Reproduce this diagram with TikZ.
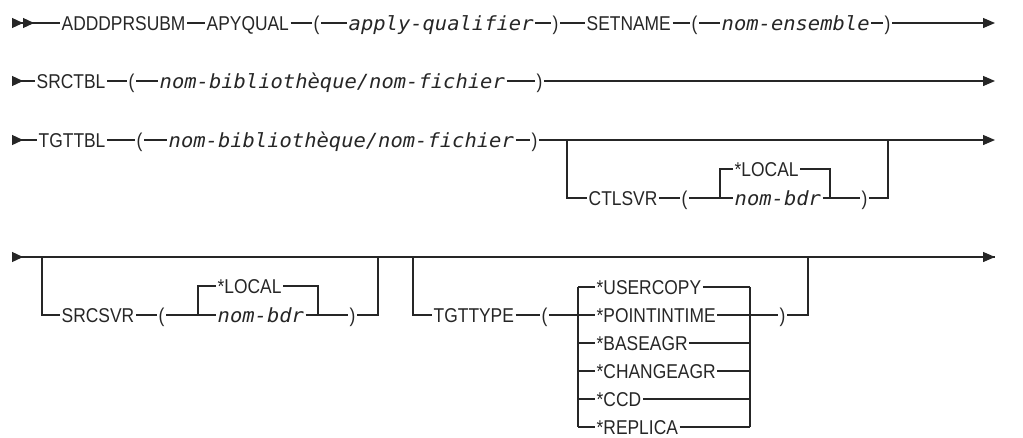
\documentclass[tikz,border=0pt]{standalone}
\usepackage{fontspec}
\setmainfont{Liberation Sans}[FakeStretch=0.87]
\newfontfamily\varfont{DejaVu Sans Mono}[FakeStretch=1.05]
\usetikzlibrary{arrows.meta}
\definecolor{ink}{HTML}{262626}
\tikzset{
  kw/.style={font=\fontsize{20}{21}\selectfont, text=ink, anchor=west, inner sep=1.5pt, text height=14.3pt, text depth=0pt},
  var/.style={kw, font=\varfont\itshape\fontsize{19.5}{20}\selectfont},
  rail/.style={draw=ink, line width=1.3pt},
  railend/.style={rail, -{Triangle[length=12pt,width=10pt]}},
  railstart/.style={rail, {Triangle[reversed,length=11pt,width=10pt]}-},
  railstarttwo/.style={rail, {Triangle[reversed,length=11pt,width=10pt] Triangle[reversed,length=11pt,width=10pt]}-}
}
\begin{document}
\begin{tikzpicture}[x=1pt, y=-1pt]
\useasboundingbox (0,0) rectangle (1023,437);
% row 1
\coordinate (s1) at (12,23);
\coordinate (e1) at (995,23);
\node[kw] (cmd) at (60,23) {ADDDPRSUBM};
\node[kw] (apyqual) at (205,23) {APYQUAL};
\node[kw] (lp1) at (312,23) {(};
\node[var] (qual) at (347,23) {apply-qualifier};
\node[kw] (rp1) at (551,23) {)};
\node[kw] (setname) at (585,23) {SETNAME};
\node[kw] (lp2) at (690,23) {(};
\node[var] (nomens) at (720,23) {nom-ensemble};
\node[kw] (rp2) at (883,23) {)};
\draw[railstarttwo] (s1) -- (cmd.west);
\foreach \a/\b in {cmd/apyqual, apyqual/lp1, lp1/qual, qual/rp1, rp1/setname, setname/lp2, lp2/nomens, nomens/rp2}
  \draw[rail] (\a.east) -- (\b.west);
\draw[railend] (rp2.east) -- (e1);
% row 2
\coordinate (s2) at (12,81);
\coordinate (e2) at (995,81);
\node[kw] (srctbl) at (35,81) {SRCTBL};
\node[kw] (lp3) at (127,81) {(};
\node[var] (srcfile) at (158,81) {nom-bibliothèque/nom-fichier};
\node[kw] (rp3) at (535,81) {)};
\draw[railstart] (s2) -- (srctbl.west);
\foreach \a/\b in {srctbl/lp3, lp3/srcfile, srcfile/rp3}
  \draw[rail] (\a.east) -- (\b.west);
\draw[railend] (rp3.east) -- (e2);
% row 3
\coordinate (s3) at (12,140);
\coordinate (e3) at (995,140);
\node[kw] (tgttbl) at (37,140) {TGTTBL};
\node[kw] (lp4) at (135,140) {(};
\node[var] (tgtfile) at (167,140) {nom-bibliothèque/nom-fichier};
\node[kw] (rp4) at (530,140) {)};
\draw[railstart] (s3) -- (tgttbl.west);
\foreach \a/\b in {tgttbl/lp4, lp4/tgtfile, tgtfile/rp4}
  \draw[rail] (\a.east) -- (\b.west);
\draw[railend] (rp4.east) -- (e3);
\coordinate (c1) at (567,140);
\coordinate (c2) at (888,140);
\coordinate (k1) at (720,198);
\coordinate (k2) at (830,198);
\node[kw] (ctlsvr) at (587,198) {CTLSVR};
\node[kw] (lp5) at (680,198) {(};
\node[kw] (loc1) at (733,169) {*LOCAL};
\node[var] (bdr1) at (733,198) {nom-bdr};
\node[kw] (rp5) at (860,198) {)};
\draw[rail] (c1) |- (ctlsvr.west);
\draw[rail] (ctlsvr.east) -- (lp5.west);
\draw[rail] (lp5.east) -- (bdr1.west);
\draw[rail] (loc1.west) -| (k1);
\draw[rail] (loc1.east) -| (k2);
\draw[rail] (bdr1.east) -- (rp5.west);
\draw[rail] (rp5.east) -| (c2);
% row 4
\coordinate (s4) at (12,257);
\coordinate (e4) at (995,257);
\draw[railstart] (s4) -- (e4);
\coordinate (d1) at (42,257);
\coordinate (d2) at (378,257);
\coordinate (d3) at (413,257);
\coordinate (d4) at (808,257);
\coordinate (k3) at (198,315);
\coordinate (k4) at (318,315);
\node[kw] (srcsvr) at (60,315) {SRCSVR};
\node[kw] (lp6) at (157,315) {(};
\node[kw] (loc2) at (216,286) {*LOCAL};
\node[var] (bdr2) at (216,315) {nom-bdr};
\node[kw] (rp6) at (348,315) {)};
\draw[rail] (d1) |- (srcsvr.west);
\draw[rail] (srcsvr.east) -- (lp6.west);
\draw[rail] (lp6.east) -- (bdr2.west);
\draw[rail] (loc2.west) -| (k3);
\draw[rail] (loc2.east) -| (k4);
\draw[rail] (bdr2.east) -- (rp6.west);
\draw[rail] (rp6.east) -| (d2);
\draw[railend] (d4) -- (e4);
\coordinate (ja) at (578,315);
\coordinate (jb) at (750,315);
\node[kw] (tgttype) at (432,315) {TGTTYPE};
\node[kw] (lp7) at (540,315) {(};
\node[kw] (rp7) at (778,315) {)};
\foreach \opt [count=\i] in {*USERCOPY,*POINTINTIME,*BASEAGR,*CHANGEAGR,*CCD,*REPLICA}
  \node[kw] (tt\i) at (595,{259+28*\i}) {\opt};
\foreach \i in {1,...,6} {
  \draw[rail] (tt\i.west -| ja) -- (tt\i.west);
  \draw[rail] (tt\i.east) -- (tt\i.east -| jb);
}
\draw[rail] (tt1.west -| ja) -- (tt6.west -| ja);
\draw[rail] (tt1.east -| jb) -- (tt6.east -| jb);
\draw[rail] (d3) |- (tgttype.west);
\draw[rail] (tgttype.east) -- (lp7.west);
\draw[rail] (lp7.east) -- (ja);
\draw[rail] (jb) -- (rp7.west);
\draw[rail] (rp7.east) -| (d4);
\end{tikzpicture}
\end{document}
